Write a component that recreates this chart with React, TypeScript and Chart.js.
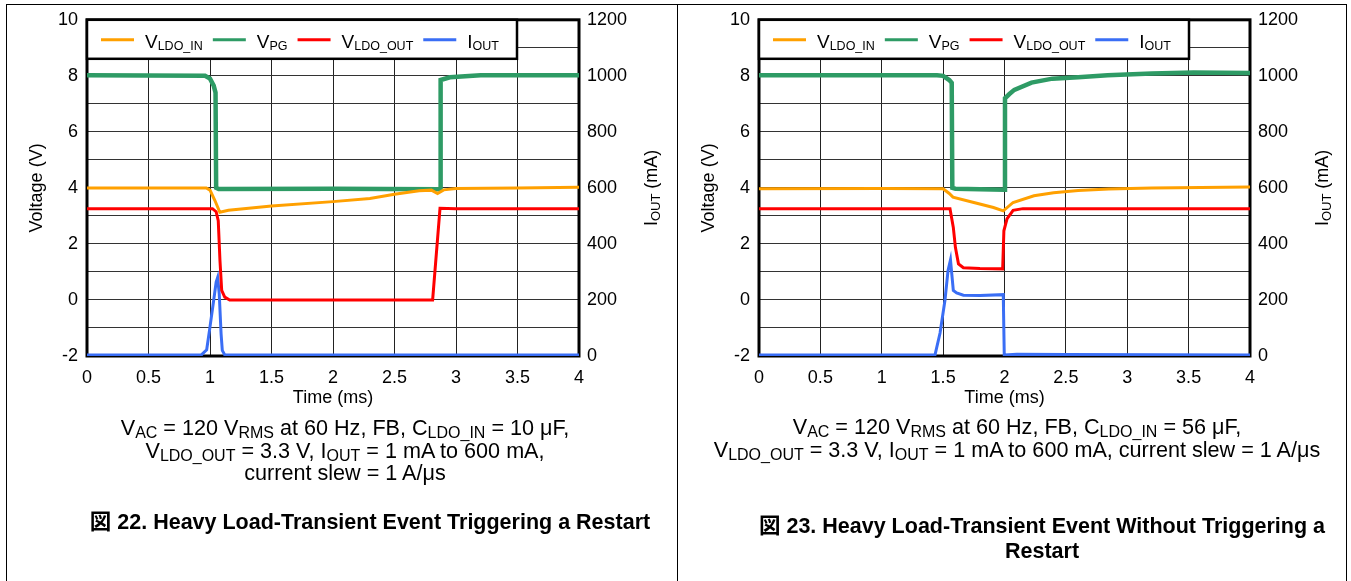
import React, { useEffect, useRef } from 'react';
import { Chart, registerables } from 'chart.js';

Chart.register(...registerables);

type Pt = [number, number];

const FONT = '"Liberation Sans", Arial, Helvetica, sans-serif';
const CJK = '"Liberation Sans", Arial, "Noto Sans CJK JP", sans-serif';

// ---- axes ----
const timeRange: Pt = [0, 4];
const timeStep = 0.5;
const voltRange: Pt = [-2, 10];
const voltGridStep = 1;
const voltLabelEvery = 2;
const currRange: Pt = [0, 1200];
const currStep = 200;

// ---- Figure 22 (ms, V / mA) ----
const fig22Vin: Pt[] = [
  [0, 4.0], [0.97, 4.0], [1.0, 3.92], [1.04, 3.55], [1.08, 3.13], [1.15, 3.2], [1.5, 3.35],
  [2.0, 3.51], [2.3, 3.62], [2.5, 3.77], [2.7, 3.9], [2.8, 3.92], [2.85, 3.8], [2.9, 3.93],
  [3.0, 3.98], [3.5, 4.0], [4.0, 4.02],
];
const fig22Vpg: Pt[] = [
  [0, 8.02], [0.96, 8.0], [1.0, 7.9], [1.03, 7.65], [1.045, 7.4], [1.05, 4.0], [1.07, 3.96],
  [2.0, 3.97], [2.87, 3.95], [2.875, 7.85], [2.95, 7.95], [3.2, 8.02], [4.0, 8.02],
];
const fig22Vout: Pt[] = [
  [0, 3.26], [1.02, 3.26], [1.05, 3.15], [1.067, 2.83], [1.081, 1.41], [1.095, 0.34],
  [1.12, 0.1], [1.16, 0.0], [2.0, 0.0], [2.81, 0.0], [2.87, 3.27], [3.0, 3.26], [4.0, 3.26],
];
const fig22Iout: Pt[] = [
  [0, 4], [0.93, 4], [0.973, 22], [1.0, 104], [1.03, 199], [1.05, 264], [1.062, 280],
  [1.075, 223], [1.09, 80], [1.1, 20], [1.12, 4], [4.0, 4],
];

// ---- Figure 23 ----
const fig23Vin: Pt[] = [
  [0, 3.97], [1.0, 3.98], [1.5, 3.97], [1.55, 3.8], [1.58, 3.67], [1.75, 3.48], [1.91, 3.3],
  [1.99, 3.18], [2.07, 3.48], [2.24, 3.72], [2.4, 3.83], [2.6, 3.91], [2.85, 3.96],
  [3.2, 4.0], [4.0, 4.03],
];
const fig23Vpg: Pt[] = [
  [0, 8.02], [1.45, 8.02], [1.5, 8.0], [1.55, 7.85], [1.57, 7.75], [1.575, 4.0], [1.6, 3.97],
  [2.0, 3.93], [2.004, 7.2], [2.04, 7.35], [2.08, 7.5], [2.22, 7.76], [2.39, 7.9], [2.6, 7.95],
  [2.84, 8.02], [3.2, 8.08], [3.54, 8.12], [4.0, 8.1],
];
const fig23Vout: Pt[] = [
  [0, 3.26], [1.556, 3.26], [1.583, 2.59], [1.6, 1.88], [1.625, 1.29], [1.665, 1.15],
  [1.8, 1.12], [1.985, 1.11], [1.995, 2.47], [2.02, 2.89], [2.07, 3.2], [2.15, 3.26], [4.0, 3.26],
];
const fig23Iout: Pt[] = [
  [0, 4], [1.434, 4], [1.475, 82], [1.515, 199], [1.54, 305], [1.56, 343], [1.583, 234],
  [1.61, 225], [1.665, 217], [1.8, 216], [1.99, 219], [1.998, 4], [2.1, 6], [2.5, 5], [4.0, 4],
];

const COLORS = { vin: '#FFA000', vpg: '#2E9B65', vout: '#FF0000', iout: '#3A6EF5' };

type Part = [string, boolean];
const legendItems: { parts: Part[]; color: string }[] = [
  { parts: [['V', false], ['LDO_IN', true]], color: COLORS.vin },
  { parts: [['V', false], ['PG', true]], color: COLORS.vpg },
  { parts: [['V', false], ['LDO_OUT', true]], color: COLORS.vout },
  { parts: [['I', false], ['OUT', true]], color: COLORS.iout },
];

const H = 410;

function drawParts(
  ctx: CanvasRenderingContext2D, parts: Part[], x: number, y: number,
  main: number, sub: number, shift: number, center: boolean,
) {
  const widths = parts.map(([t, s]) => {
    ctx.font = `${s ? sub : main}px ${FONT}`;
    return ctx.measureText(t).width;
  });
  const total = widths.reduce((a, b) => a + b, 0);
  let cx = center ? x - total / 2 : x;
  ctx.textAlign = 'left';
  ctx.textBaseline = 'alphabetic';
  parts.forEach(([t, s], i) => {
    ctx.font = `${s ? sub : main}px ${FONT}`;
    ctx.fillText(t, cx, s ? y + shift : y);
    cx += widths[i];
  });
  return total;
}

const toXY = (pts: Pt[]) => pts.map(([x, y]) => ({ x, y }));

interface PanelProps {
  vin: Pt[]; vpg: Pt[]; vout: Pt[]; iout: Pt[];
  left: number; width: number; chartLeft: number; chartRight: number;
}

function Panel(p: PanelProps) {
  const ref = useRef<HTMLCanvasElement>(null);
  useEffect(() => {
    const canvas = ref.current!;
    const overlay = {
      id: 'overlay',
      beforeDatasetsDraw(chart: any) {
        const { ctx, chartArea: a } = chart;
        ctx.save();
        ctx.strokeStyle = '#000';
        ctx.lineWidth = 3;
        ctx.strokeRect(a.left, a.top, a.right - a.left, a.bottom - a.top);
        ctx.restore();
      },
      afterDatasetsDraw(chart: any) {
        const { ctx, chartArea: a } = chart;
        ctx.save();
        // legend box
        ctx.fillStyle = '#fff';
        ctx.fillRect(a.left, a.top, 430, 39);
        ctx.strokeStyle = '#000';
        ctx.lineWidth = 2.5;
        ctx.strokeRect(a.left, a.top, 430, 39);
        let x = a.left + 14;
        const ly = a.top + 20;
        legendItems.forEach((it) => {
          ctx.strokeStyle = it.color;
          ctx.lineWidth = 3;
          ctx.beginPath();
          ctx.moveTo(x, ly);
          ctx.lineTo(x + 33, ly);
          ctx.stroke();
          ctx.fillStyle = '#000';
          const w = drawParts(ctx, it.parts, x + 44, a.top + 28, 19, 12.5, 2.5, false);
          x += 44 + w + 10;
        });
        // axis titles
        ctx.fillStyle = '#000';
        const cy = (a.top + a.bottom) / 2;
        ctx.save();
        ctx.translate(a.left - 45.5, cy);
        ctx.rotate(-Math.PI / 2);
        drawParts(ctx, [['Voltage (V)', false]], 0, 0, 18, 13, 3, true);
        ctx.restore();
        ctx.save();
        ctx.translate(a.right + 77.5, cy);
        ctx.rotate(-Math.PI / 2);
        drawParts(ctx, [['I', false], ['OUT', true], [' (mA)', false]], 0, 0, 18, 13, 3, true);
        ctx.restore();
        drawParts(ctx, [['Time (ms)', false]], (a.left + a.right) / 2, 403, 18, 13, 3, true);
        ctx.restore();
      },
    };
    const ds = (label: string, pts: Pt[], color: string, axis: string, w: number) => ({
      label, data: toXY(pts), borderColor: color, backgroundColor: color,
      borderWidth: w, pointRadius: 0, tension: 0, yAxisID: axis, fill: false,
    });
    const tickFont = { family: FONT, size: 18 };
    const chart = new Chart(canvas, {
      type: 'line',
      data: {
        datasets: [
          ds('VLDO_IN', p.vin, COLORS.vin, 'y', 3),
          ds('VLDO_OUT', p.vout, COLORS.vout, 'y', 3),
          ds('VPG', p.vpg, COLORS.vpg, 'y', 4.5),
          ds('IOUT', p.iout, COLORS.iout, 'y1', 3),
        ],
      },
      options: {
        animation: false,
        responsive: false,
        devicePixelRatio: 1,
        events: [],
        layout: { padding: { left: 0, right: 0, top: 18, bottom: 0 } },
        plugins: { legend: { display: false }, tooltip: { enabled: false }, title: { display: false } },
        scales: {
          x: {
            type: 'linear', min: timeRange[0], max: timeRange[1],
            ticks: {
              stepSize: timeStep, padding: 11, color: '#000', font: tickFont,
              maxRotation: 0, autoSkip: false, callback: (v: any) => String(+v),
            },
            grid: { color: '#222', lineWidth: 1, drawTicks: false },
            border: { display: false },
            afterFit: (s: any) => { s.height = H - 356; },
          },
          y: {
            type: 'linear', position: 'left', min: voltRange[0], max: voltRange[1],
            ticks: {
              stepSize: voltGridStep, padding: 9, color: '#000', font: tickFont, autoSkip: false,
              callback: (v: any) => (Math.round(+v) % voltLabelEvery === 0 ? String(+v) : ''),
            },
            grid: { color: '#333', lineWidth: 1, drawTicks: false },
            border: { display: false },
            afterFit: (s: any) => { s.width = p.chartLeft; },
          },
          y1: {
            type: 'linear', position: 'right', min: currRange[0], max: currRange[1],
            ticks: {
              stepSize: currStep, padding: 8, color: '#000', font: tickFont, autoSkip: false,
              callback: (v: any) => String(+v),
            },
            grid: { display: false, drawTicks: false },
            border: { display: false },
            afterFit: (s: any) => { s.width = p.width - p.chartRight; },
          },
        },
      } as any,
      plugins: [overlay],
    });
    return () => chart.destroy();
  }, []);
  return (
    <canvas
      ref={ref}
      width={p.width}
      height={H}
      style={{ position: 'absolute', left: p.left, top: 0, width: p.width, height: H }}
    />
  );
}

const Sub = ({ children }: { children: React.ReactNode }) => (
  <span style={{ fontSize: 16, position: 'relative', top: 3 }}>{children}</span>
);

const lineStyle = (cx: number, top: number, lh: number): React.CSSProperties => ({
  position: 'absolute', left: cx - 400, width: 800, top, height: lh, lineHeight: `${lh}px`,
  textAlign: 'center', whiteSpace: 'nowrap', fontFamily: FONT, fontSize: 21.6, color: '#000',
});

const titleStyle = (cx: number, top: number): React.CSSProperties => ({
  ...lineStyle(cx, top, 25), fontFamily: CJK, fontWeight: 'bold', fontSize: 21.5,
});

const vline = (x: number): React.CSSProperties => ({
  position: 'absolute', left: x, top: 4, width: 1, height: 577, background: '#000',
});

export default function App() {
  return (
    <div style={{ position: 'absolute', left: 0, top: 0, width: 1351, height: 581, background: '#fff', overflow: 'hidden' }}>
      <Panel vin={fig22Vin} vpg={fig22Vpg} vout={fig22Vout} iout={fig22Iout}
        left={0} width={677} chartLeft={87} chartRight={579} />
      <Panel vin={fig23Vin} vpg={fig23Vpg} vout={fig23Vout} iout={fig23Iout}
        left={677} width={674} chartLeft={82} chartRight={573} />
      <div style={{ position: 'absolute', left: 6, top: 4, width: 1341, height: 1, background: '#000' }} />
      <div style={vline(6)} />
      <div style={vline(677)} />
      <div style={vline(1346)} />

      <div style={lineStyle(345, 417, 22.5)}>V<Sub>AC</Sub> = 120 V<Sub>RMS</Sub> at 60 Hz, FB, C<Sub>LDO_IN</Sub> = 10 μF,</div>
      <div style={lineStyle(345, 439.5, 22.5)}>V<Sub>LDO_OUT</Sub> = 3.3 V, I<Sub>OUT</Sub> = 1 mA to 600 mA,</div>
      <div style={lineStyle(345, 462, 22.5)}>current slew = 1 A/μs</div>
      <div style={titleStyle(370, 509.5)}>図 22. Heavy Load-Transient Event Triggering a Restart</div>

      <div style={lineStyle(1017, 415.5, 22.5)}>V<Sub>AC</Sub> = 120 V<Sub>RMS</Sub> at 60 Hz, FB, C<Sub>LDO_IN</Sub> = 56 μF,</div>
      <div style={lineStyle(1017, 439, 22.5)}>V<Sub>LDO_OUT</Sub> = 3.3 V, I<Sub>OUT</Sub> = 1 mA to 600 mA, current slew = 1 A/μs</div>
      <div style={titleStyle(1042, 513.5)}>図 23. Heavy Load-Transient Event Without Triggering a</div>
      <div style={titleStyle(1042, 538.5)}>Restart</div>
    </div>
  );
}
